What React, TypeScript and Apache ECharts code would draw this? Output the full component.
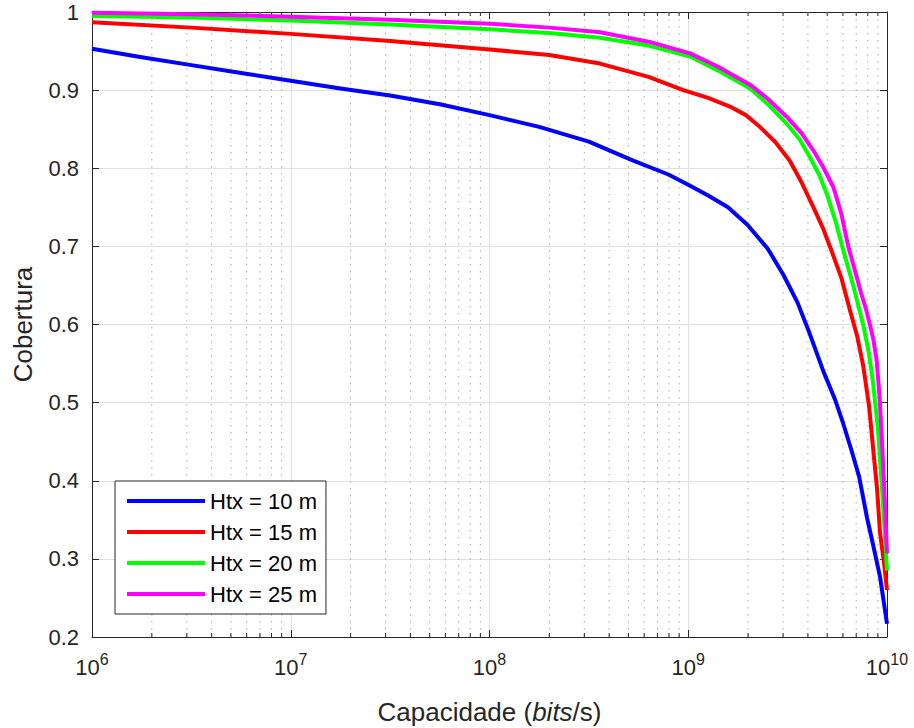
import React, { useEffect, useRef } from "react";
import * as echarts from "echarts";

const seriesNames = ["Htx = 10 m", "Htx = 15 m", "Htx = 20 m", "Htx = 25 m"];
const seriesColors = ["#0000ff", "#ff0000", "#00ff00", "#ff00ff"];

// log10 of capacity (bits/s) and coverage
const exp10 = [6, 6.25, 6.5, 6.75, 7, 7.25, 7.5, 7.75, 8, 8.25, 8.5, 8.72, 8.9, 9.0, 9.1, 9.2, 9.3, 9.4, 9.48, 9.55, 9.61, 9.68, 9.74, 9.78, 9.82, 9.86, 9.9, 9.93, 9.965, 10];
const cov10 = [0.953, 0.942, 0.932, 0.922, 0.912, 0.902, 0.893, 0.882, 0.868, 0.853, 0.834, 0.81, 0.792, 0.779, 0.765, 0.75, 0.727, 0.697, 0.663, 0.628, 0.589, 0.54, 0.503, 0.473, 0.44, 0.405, 0.352, 0.318, 0.277, 0.217];

const exp15 = [6, 6.5, 7, 7.5, 8, 8.3, 8.556, 8.8, 8.975, 9.1, 9.21, 9.29, 9.36, 9.44, 9.51, 9.57, 9.63, 9.68, 9.72, 9.77, 9.814, 9.85, 9.881, 9.91, 9.931, 9.95, 9.965, 9.985, 10];
const cov15 = [0.987, 0.98, 0.972, 0.963, 0.952, 0.945, 0.934, 0.917, 0.9, 0.89, 0.879, 0.868, 0.853, 0.833, 0.81, 0.782, 0.75, 0.722, 0.695, 0.66, 0.618, 0.585, 0.546, 0.495, 0.439, 0.39, 0.333, 0.295, 0.26];

const exp20 = [6, 6.5, 7, 7.5, 8, 8.3, 8.556, 8.8, 9.009, 9.15, 9.311, 9.4, 9.495, 9.56, 9.61, 9.66, 9.7, 9.74, 9.78, 9.83, 9.88, 9.91, 9.93, 9.955, 9.973, 9.99, 10];
const cov20 = [0.995, 0.993, 0.989, 0.984, 0.978, 0.973, 0.967, 0.957, 0.943, 0.925, 0.902, 0.882, 0.857, 0.837, 0.815, 0.791, 0.765, 0.733, 0.695, 0.65, 0.6, 0.562, 0.525, 0.465, 0.397, 0.33, 0.285];

const exp25 = [6, 6.5, 7, 7.5, 8, 8.3, 8.556, 8.8, 9.009, 9.15, 9.311, 9.4, 9.495, 9.57, 9.629, 9.68, 9.73, 9.77, 9.805, 9.84, 9.87, 9.894, 9.914, 9.932, 9.948, 9.962, 9.973, 9.988, 10];
const cov25 = [0.999, 0.997, 0.994, 0.99, 0.985, 0.98, 0.974, 0.962, 0.947, 0.93, 0.907, 0.889, 0.866, 0.845, 0.823, 0.801, 0.776, 0.742, 0.7, 0.668, 0.64, 0.62, 0.6, 0.58, 0.554, 0.51, 0.46, 0.38, 0.307];

const minorTicks = [
  2e6, 3e6, 4e6, 5e6, 6e6, 7e6, 8e6, 9e6,
  2e7, 3e7, 4e7, 5e7, 6e7, 7e7, 8e7, 9e7,
  2e8, 3e8, 4e8, 5e8, 6e8, 7e8, 8e8, 9e8,
  2e9, 3e9, 4e9, 5e9, 6e9, 7e9, 8e9, 9e9,
];

const xMin = 1e6;
const xMax = 1e10;
const yMin = 0.2;
const yMax = 1;
const yStep = 0.1;

const FONT = "Liberation Sans, Arial, Helvetica, sans-serif";
const AX = "#262626";
const GRID = "#e0e0e0";

export default function App() {
  const ref = useRef<HTMLDivElement>(null);

  useEffect(() => {
    if (!ref.current) return;
    const chart = echarts.init(ref.current, undefined, { renderer: "svg" });

    const pairs = [
      [exp10, cov10],
      [exp15, cov15],
      [exp20, cov20],
      [exp25, cov25],
    ];

    const lineSeries = pairs.map(([ex, cv], i) => ({
      name: seriesNames[i],
      type: "line",
      data: ex.map((e, j) => [Math.pow(10, e), cv[j]]),
      showSymbol: false,
      symbol: "none",
      lineStyle: { color: seriesColors[i], width: 4, join: "round", cap: "butt" },
      itemStyle: { color: seriesColors[i] },
      z: 5,
    }));

    const option: any = {
      animation: false,
      textStyle: { fontFamily: FONT },
      grid: { left: 92, right: 27, top: 12, bottom: 91, containLabel: false, outerBoundsMode: "none" },
      legend: {
        orient: "vertical",
        left: 115,
        top: 481,
        padding: [8, 9, 8, 12],
        itemGap: 7,
        itemWidth: 78,
        itemHeight: 4,
        icon: "rect",
        borderColor: AX,
        borderWidth: 1,
        backgroundColor: "#ffffff",
        data: seriesNames,
        textStyle: { fontSize: 22, color: "#000", lineHeight: 24, fontFamily: FONT },
        selectedMode: false,
      },
      xAxis: [
        {
          type: "log",
          logBase: 10,
          min: xMin,
          max: xMax,
          position: "bottom",
          axisLine: { show: true, lineStyle: { color: AX, width: 1 } },
          axisTick: { show: true, inside: true, length: 7, lineStyle: { color: AX } },
          splitLine: { show: true, lineStyle: { color: GRID, width: 1 } },
          axisLabel: {
            margin: 19,
            color: AX,
            formatter: (v: number) => `{b|10}{e|${Math.round(Math.log10(v))}}`,
            rich: {
              b: { fontSize: 22, lineHeight: 22, color: AX, fontFamily: FONT, verticalAlign: "bottom" },
              e: { fontSize: 16, lineHeight: 16, color: AX, fontFamily: FONT, verticalAlign: "bottom", padding: [0, 0, 11, 0] },
            },
          },
          name: "{n|Capacidade (}{i|bits}{n|/s)}",
          nameLocation: "middle",
          nameGap: 62,
          nameTextStyle: {
            rich: {
              n: { fontSize: 26, color: AX, fontFamily: FONT },
              i: { fontSize: 26, color: AX, fontFamily: FONT, fontStyle: "italic" },
            },
          },
        },
        {
          type: "log",
          logBase: 10,
          min: xMin,
          max: xMax,
          position: "top",
          axisLine: { show: true, lineStyle: { color: AX, width: 1 } },
          axisTick: { show: true, inside: true, length: 7, lineStyle: { color: AX } },
          splitLine: { show: false },
          axisLabel: { show: false },
        },
      ],
      yAxis: [
        {
          type: "value",
          min: yMin,
          max: yMax,
          interval: yStep,
          position: "left",
          axisLine: { show: true, lineStyle: { color: AX, width: 1 } },
          axisTick: { show: true, inside: true, length: 7, lineStyle: { color: AX } },
          splitLine: { show: true, lineStyle: { color: GRID, width: 1 } },
          axisLabel: {
            margin: 13,
            color: AX,
            fontSize: 22,
            fontFamily: FONT,
            formatter: (v: number) => (Math.abs(v - 1) < 1e-9 ? "1" : v.toFixed(1)),
          },
          name: "Cobertura",
          nameLocation: "middle",
          nameGap: 56,
          nameRotate: 90,
          nameTextStyle: { fontSize: 26, color: AX, fontFamily: FONT },
        },
        {
          type: "value",
          min: yMin,
          max: yMax,
          interval: yStep,
          position: "right",
          axisLine: { show: true, lineStyle: { color: AX, width: 1 } },
          axisTick: { show: true, inside: true, length: 7, lineStyle: { color: AX } },
          splitLine: { show: false },
          axisLabel: { show: false },
        },
      ],
      series: [
        {
          type: "custom",
          silent: true,
          xAxisIndex: 0,
          yAxisIndex: 0,
          z: 1,
          data: minorTicks.map((v) => [v, 0.6]),
          encode: { x: 0, y: 1 },
          renderItem: (params: any, api: any) => {
            const cs = params.coordSys;
            const x = api.coord([api.value(0), 0.6])[0];
            const top = cs.y;
            const bottom = cs.y + cs.height;
            return {
              type: "group",
              children: [
                {
                  type: "line",
                  shape: { x1: x, y1: top, x2: x, y2: bottom },
                  style: { stroke: "#aaaaaa", lineWidth: 1, lineDash: [1.5, 5.5] },
                },
                {
                  type: "line",
                  shape: { x1: x, y1: bottom, x2: x, y2: bottom - 4 },
                  style: { stroke: AX, lineWidth: 1 },
                },
                {
                  type: "line",
                  shape: { x1: x, y1: top, x2: x, y2: top + 4 },
                  style: { stroke: AX, lineWidth: 1 },
                },
              ],
            };
          },
        },
        ...lineSeries,
      ],
    };

    chart.setOption(option);
    return () => chart.dispose();
  }, []);

  return <div ref={ref} style={{ width: 914, height: 728, position: "absolute", left: 0, top: 0, background: "#fff" }} />;
}
